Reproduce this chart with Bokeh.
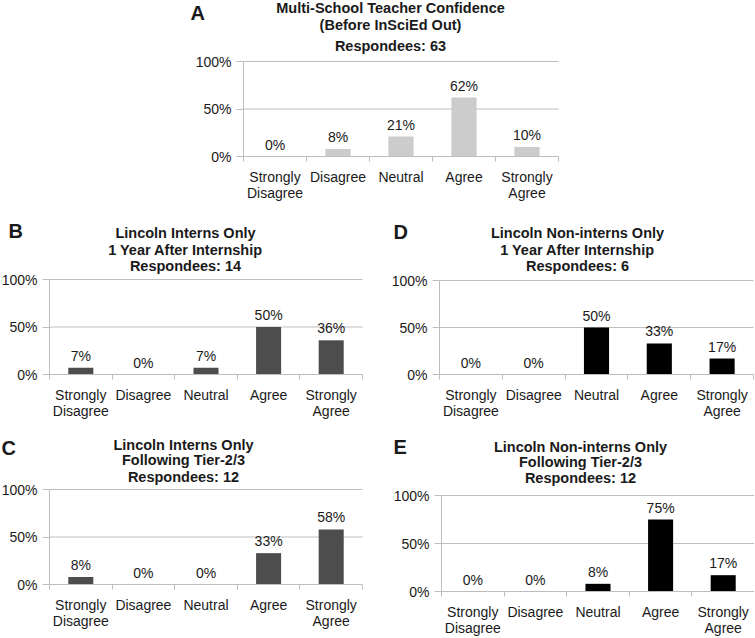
from bokeh.plotting import figure
from bokeh.layouts import column, row
from bokeh.models import FixedTicker, ColumnDataSource, Range1d, Spacer
from bokeh.core.properties import value
from bokeh.embed import file_html
from bokeh.resources import INLINE

# ---- data ----
categories = ["Strongly\nDisagree", "Disagree", "Neutral", "Agree", "Strongly\nAgree"]
y_ticks = [0, 0.5, 1.0]
y_tick_labels = ["0%", "50%", "100%"]

values_A = [0, 8, 21, 62, 10]
values_B = [7, 0, 7, 50, 36]
values_C = [8, 0, 0, 33, 58]
values_D = [0, 0, 50, 33, 17]
values_E = [0, 0, 8, 75, 17]

title_A = ["Multi-School Teacher Confidence", "(Before InSciEd Out)", "Respondees: 63"]
title_B = ["Lincoln Interns Only", "1 Year After Internship", "Respondees: 14"]
title_C = ["Lincoln Interns Only", "Following Tier-2/3", "Respondees: 12"]
title_D = ["Lincoln Non-interns Only", "1 Year After Internship", "Respondees: 6"]
title_E = ["Lincoln Non-interns Only", "Following Tier-2/3", "Respondees: 12"]

FONT = "Liberation Sans"
TXT = "#1a1a1a"
GRID = "#bdbdbd"


def make_panel(letter, title_lines, values, color, fig_box, plot_box,
               title_cx, title_ys, letter_xy):
    """fig_box = (x0, y0, x1, y1) and plot_box = (left, top, right, bottom) in page pixels."""
    X0, Y0, X1, Y1 = fig_box
    L, T, R, B = plot_box
    n = len(categories)
    ux = (R - L) / n
    uy = float(B - T)

    def dx(px):
        return (px - L) / ux

    def dy(py):
        return (B - py) / uy

    p = figure(width=X1 - X0, height=Y1 - Y0, output_backend="svg", toolbar_location=None,
               x_range=Range1d(dx(X0), dx(X1)), y_range=Range1d(dy(Y1), dy(Y0)),
               min_border=0, min_border_left=0, min_border_right=0,
               min_border_top=0, min_border_bottom=0)
    p.outline_line_color = None
    p.xgrid.grid_line_color = None
    p.ygrid.grid_line_color = None

    # horizontal grid lines at the non-zero ticks, spanning the categories
    grid_y = [t for t in y_ticks if t > 0]
    p.segment(x0=[0] * len(grid_y), x1=[n] * len(grid_y), y0=grid_y, y1=grid_y,
              line_color=GRID, line_width=1)

    centers = [i + 0.5 for i in range(n)]
    tops = [v / 100.0 for v in values]
    labels = [f"{v}%" for v in values]
    src = ColumnDataSource(dict(x=centers, top=tops, lab=labels))
    p.vbar(x="x", top="top", width=0.4, source=src, fill_color=color, line_color=None)
    p.text(x="x", y="top", text="lab", source=src, text_align="center",
           text_baseline="bottom", y_offset=-4, text_font_size="14px",
           text_font=value(FONT), text_color=TXT)

    # x axis at y = 0
    xa = p.xaxis[0]
    xa.fixed_location = 0
    xa.bounds = (0, n)
    xa.ticker = FixedTicker(ticks=centers, minor_ticks=list(range(n + 1)))
    xa.major_label_overrides = {c: lab for c, lab in zip(centers, categories)}
    xa.major_tick_line_color = None
    xa.major_tick_out = 0
    xa.major_tick_in = 0
    xa.minor_tick_out = 5
    xa.minor_tick_in = 0
    xa.minor_tick_line_color = GRID
    xa.axis_line_color = GRID
    xa.major_label_standoff = 7
    xa.major_label_text_font = FONT
    xa.major_label_text_font_size = "14px"
    xa.major_label_text_line_height = 1.0
    xa.major_label_text_color = TXT

    # y axis at x = 0
    ya = p.yaxis[0]
    ya.fixed_location = 0
    ya.bounds = (0, 1)
    ya.ticker = FixedTicker(ticks=y_ticks, minor_ticks=[])
    ya.major_label_overrides = {t: lab for t, lab in zip(y_ticks, y_tick_labels)}
    ya.major_tick_out = 7
    ya.major_tick_in = 0
    ya.major_tick_line_color = GRID
    ya.minor_tick_line_color = None
    ya.axis_line_color = GRID
    ya.major_label_standoff = 5
    ya.major_label_text_font = FONT
    ya.major_label_text_font_size = "14px"
    ya.major_label_text_color = TXT

    # titles and panel letter
    p.text(x=[dx(title_cx)] * len(title_lines), y=[dy(v) for v in title_ys], text=title_lines,
           text_align="center", text_baseline="middle", text_font=value(FONT),
           text_font_size="14.5px", text_font_style="bold", text_color=TXT)
    p.text(x=[dx(letter_xy[0])], y=[dy(letter_xy[1])], text=[letter], text_align="left",
           text_baseline="middle", text_font=value(FONT), text_font_size="20px",
           text_font_style="bold", text_color=TXT)
    return p


pA = make_panel("A", title_A, values_A, "#cccccc", (155, 0, 578, 216), (243, 61, 558, 156),
                390, (7, 24, 45.5), (190, 12))
pB = make_panel("B", title_B, values_B, "#4d4d4d", (0, 216, 372, 421), (49, 279, 362, 374),
                185, (232, 249, 265.5), (8, 230))
pD = make_panel("D", title_D, values_D, "#000000", (372, 216, 754, 421), (439, 280, 753, 374),
                577, (232, 249, 265.5), (393, 231))
pC = make_panel("C", title_C, values_C, "#4d4d4d", (0, 421, 372, 637), (49, 489, 362, 584),
                183, (444, 459.5, 476), (1, 447.5))
pE = make_panel("E", title_E, values_E, "#000000", (372, 421, 754, 637), (441, 495, 754, 591),
                580, (446, 461, 477.5), (393, 446.5))

layout = column(
    row(Spacer(width=155, height=216), pA),
    row(pB, pD),
    row(pC, pE),
)

open("out.html", "w").write(file_html(layout, INLINE))
